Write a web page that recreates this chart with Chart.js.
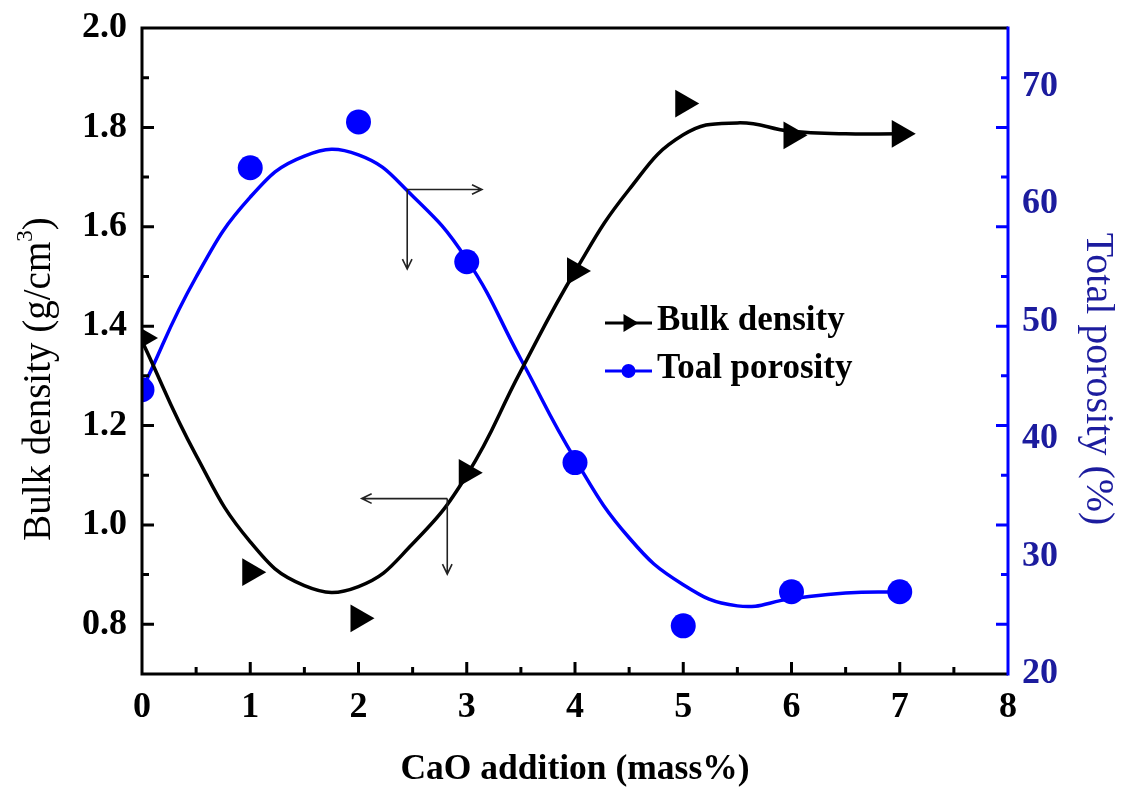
<!DOCTYPE html>
<html>
<head>
<meta charset="utf-8">
<script src="https://cdn.jsdelivr.net/npm/chart.js@4.4.1/dist/chart.umd.min.js"></script>
<style>
  html, body { margin: 0; padding: 0; background: #fff; }
</style>
</head>
<body>
<canvas id="myChart" width="1123" height="794"></canvas>
<script>
// measured points
const cao_added      = [0, 1, 2, 3, 4, 5, 6, 7];
const bulk_density   = [1.376, 0.905, 0.812, 1.105, 1.511, 1.848, 1.784, 1.787];
const total_porosity = [44.2, 63.1, 67.0, 55.1, 38.0, 24.1, 27.0, 27.0];

// smoothed trend lines, sampled every 0.5
const fit_x          = [0, 0.5, 1.0, 1.5, 2.0, 2.5, 3.0, 3.5, 4.0, 4.5, 5.0, 5.5, 6.0, 6.5, 7.0];
const density_fit_y  = [1.37, 1.14, 0.966, 0.878, 0.876, 0.962, 1.10, 1.31, 1.51, 1.675, 1.785, 1.809, 1.792, 1.787, 1.787];
const porosity_fit_y = [44.2, 53.8, 60.6, 64.1, 64.2, 60.7, 55.3, 46.8, 38.3, 31.6, 27.6, 25.8, 26.4, 26.9, 27.0];

// tick labels
const x_ticks        = [0, 1, 2, 3, 4, 5, 6, 7, 8];
const density_ticks  = [0.8, 1.0, 1.2, 1.4, 1.6, 1.8, 2.0];
const porosity_ticks = [20, 30, 40, 50, 60, 70];

// axis pointers (corner -> end), in x / bulk density units
const pointer_corner_x = [2.45, 2.82];
const pointer_corner_y = [1.675, 1.053];
const pointer_end_x    = [3.14, 2.03];
const pointer_end_y    = [1.515, 0.901];

const SERIF = "'Liberation Serif', 'Times New Roman', serif";
const NAVY = '#1c1c9e';
const BLUE = '#0000ff';

const pts = (xs, ys) => xs.map((x, i) => ({ x: x, y: ys[i] }));

function arrow(ctx, x1, y1, x2, y2) {
    const a = Math.atan2(y2 - y1, x2 - x1);
    const h = 11;
    ctx.beginPath();
    ctx.moveTo(x1, y1);
    ctx.lineTo(x2, y2);
    ctx.moveTo(x2 - h * Math.cos(a - 0.45), y2 - h * Math.sin(a - 0.45));
    ctx.lineTo(x2, y2);
    ctx.lineTo(x2 - h * Math.cos(a + 0.45), y2 - h * Math.sin(a + 0.45));
    ctx.stroke();
}

const decorations = {
    id: 'decorations',
    afterDraw(chart) {
        const ctx = chart.ctx;
        const a = chart.chartArea;
        const xs = chart.scales.x, ys = chart.scales.y;
        ctx.save();
        ctx.lineCap = 'butt';

        // frame
        ctx.lineWidth = 3;
        ctx.strokeStyle = '#000';
        ctx.beginPath();
        ctx.moveTo(a.right, a.top); ctx.lineTo(a.left, a.top);
        ctx.lineTo(a.left, a.bottom); ctx.lineTo(a.right, a.bottom);
        ctx.stroke();
        ctx.strokeStyle = BLUE;
        ctx.beginPath();
        ctx.moveTo(a.right, a.top - 1.5); ctx.lineTo(a.right, a.bottom + 1.5);
        ctx.stroke();

        // inward ticks
        ctx.strokeStyle = '#000';
        ctx.beginPath();
        density_ticks.forEach((v, i) => {
            const y = ys.getPixelForValue(v);
            if (i < density_ticks.length - 1) { ctx.moveTo(a.left, y); ctx.lineTo(a.left + 12, y); }
            const ym = ys.getPixelForValue(v + 0.1);
            if (v + 0.1 < 2.0) { ctx.moveTo(a.left, ym); ctx.lineTo(a.left + 7, ym); }
        });
        x_ticks.forEach((v, i) => {
            const x = xs.getPixelForValue(v);
            if (i > 0 && i < x_ticks.length - 1) { ctx.moveTo(x, a.bottom); ctx.lineTo(x, a.bottom - 12); }
            if (i < x_ticks.length - 1) {
                const xm = xs.getPixelForValue(v + 0.5);
                ctx.moveTo(xm, a.bottom); ctx.lineTo(xm, a.bottom - 7);
            }
        });
        ctx.stroke();
        ctx.strokeStyle = BLUE;
        ctx.beginPath();
        density_ticks.forEach((v, i) => {
            const y = ys.getPixelForValue(v);
            if (i < density_ticks.length - 1) { ctx.moveTo(a.right, y); ctx.lineTo(a.right - 12, y); }
            const ym = ys.getPixelForValue(v + 0.1);
            if (v + 0.1 < 2.0) { ctx.moveTo(a.right, ym); ctx.lineTo(a.right - 7, ym); }
        });
        ctx.stroke();

        // pointers to the axes
        ctx.strokeStyle = '#222';
        ctx.lineWidth = 1.6;
        pointer_corner_x.forEach((cx, i) => {
            const px = xs.getPixelForValue(cx), py = ys.getPixelForValue(pointer_corner_y[i]);
            arrow(ctx, px, py, xs.getPixelForValue(pointer_end_x[i]), py);
            arrow(ctx, px, py, px, ys.getPixelForValue(pointer_end_y[i]));
        });

        // legend
        const lx = 605, lw = 47;
        ctx.lineWidth = 3;
        ctx.strokeStyle = '#000';
        ctx.beginPath(); ctx.moveTo(lx, 323); ctx.lineTo(lx + lw, 323); ctx.stroke();
        ctx.fillStyle = '#000';
        ctx.beginPath();
        ctx.moveTo(lx + lw / 2 + 10, 323); ctx.lineTo(lx + lw / 2 - 5, 314); ctx.lineTo(lx + lw / 2 - 5, 332);
        ctx.closePath(); ctx.fill();
        ctx.strokeStyle = BLUE;
        ctx.beginPath(); ctx.moveTo(lx, 371); ctx.lineTo(lx + lw, 371); ctx.stroke();
        ctx.fillStyle = BLUE;
        ctx.beginPath(); ctx.arc(lx + lw / 2, 371, 7, 0, Math.PI * 2); ctx.fill();
        ctx.fillStyle = '#000';
        ctx.font = 'bold 35px ' + SERIF;
        ctx.textAlign = 'left';
        ctx.textBaseline = 'alphabetic';
        ctx.fillText('Bulk density', 657, 330);
        ctx.fillText('Toal porosity', 657, 378);

        // axis titles
        ctx.font = 'bold 35.5px ' + SERIF;
        ctx.textAlign = 'center';
        ctx.textBaseline = 'middle';
        ctx.fillText('CaO addition (mass%)', (a.left + a.right) / 2, 770);

        ctx.save();
        ctx.translate(40, 379);
        ctx.rotate(-Math.PI / 2);
        const big = '39px ' + SERIF, small = '23px ' + SERIF;
        const t1 = 'Bulk density (g/cm', t2 = '3', t3 = ')';
        ctx.font = big;
        const w1 = ctx.measureText(t1).width, w3 = ctx.measureText(t3).width;
        ctx.font = small;
        const w2 = ctx.measureText(t2).width;
        const sx = -(w1 + w2 + w3) / 2;
        ctx.textAlign = 'left';
        ctx.font = big;
        ctx.fillText(t1, sx, 0);
        ctx.font = small;
        ctx.fillText(t2, sx + w1, -14);
        ctx.font = big;
        ctx.fillText(t3, sx + w1 + w2, 0);
        ctx.restore();

        ctx.save();
        ctx.translate(1097, 379);
        ctx.rotate(Math.PI / 2);
        ctx.font = '40px ' + SERIF;
        ctx.fillStyle = NAVY;
        ctx.textAlign = 'center';
        ctx.fillText('Total porosity (%)', 0, 0);
        ctx.restore();

        ctx.restore();
    }
};

const tickFont = { family: SERIF, size: 36, weight: 'bold' };

// fixed box sizes so the plot area lands at 142..1008 x 28..674
const noPadV = (w) => s => { s.width = w; s.paddingTop = 0; s.paddingBottom = 0; };

const config = {
    type: 'scatter',
    data: {
        datasets: [
            { label: 'Bulk density fit', data: pts(fit_x, density_fit_y), yAxisID: 'y',
              showLine: true, borderColor: '#000', borderWidth: 3.5, pointRadius: 0,
              tension: 0.45, clip: 0 },
            { label: 'Toal porosity fit', data: pts(fit_x, porosity_fit_y), yAxisID: 'y2',
              showLine: true, borderColor: BLUE, borderWidth: 3.5, pointRadius: 0,
              tension: 0.45, clip: 0 },
            { label: 'Bulk density', data: pts(cao_added, bulk_density), yAxisID: 'y',
              pointStyle: 'triangle', rotation: 90, pointRadius: 16, borderWidth: 0,
              backgroundColor: '#000', borderColor: '#000', clip: 0 },
            { label: 'Toal porosity', data: pts(cao_added, total_porosity), yAxisID: 'y2',
              pointStyle: 'circle', pointRadius: 12.5, borderWidth: 0,
              backgroundColor: BLUE, borderColor: BLUE, clip: 0 }
        ]
    },
    options: {
        responsive: false,
        animation: false,
        devicePixelRatio: 1,
        layout: { padding: { top: 28, left: 0, right: 0, bottom: 0 } },
        plugins: { legend: { display: false }, tooltip: { enabled: false } },
        scales: {
            x: {
                type: 'linear', min: 0, max: 8,
                afterBuildTicks: s => { s.ticks = x_ticks.map(v => ({ value: v })); },
                afterFit: s => { s.height = 120; s.paddingLeft = 0; s.paddingRight = 0; },
                grid: { display: false, drawTicks: false }, border: { display: false },
                ticks: { font: tickFont, color: '#000', padding: 12, autoSkip: false, maxRotation: 0 }
            },
            y: {
                type: 'linear', position: 'left', min: 0.7, max: 2.0,
                afterBuildTicks: s => { s.ticks = density_ticks.map(v => ({ value: v })); },
                afterFit: noPadV(142),
                grid: { display: false, drawTicks: false }, border: { display: false },
                ticks: { font: tickFont, color: '#000', padding: 15, callback: v => v.toFixed(1) }
            },
            y2: {
                type: 'linear', position: 'right', min: 20, max: 75,
                afterBuildTicks: s => { s.ticks = porosity_ticks.map(v => ({ value: v })); },
                afterFit: noPadV(115),
                grid: { display: false, drawTicks: false }, border: { display: false },
                ticks: { font: tickFont, color: NAVY, padding: 14 }
            }
        }
    },
    plugins: [decorations]
};

const chart = new Chart(document.getElementById('myChart'), config);
</script>
</body>
</html>
